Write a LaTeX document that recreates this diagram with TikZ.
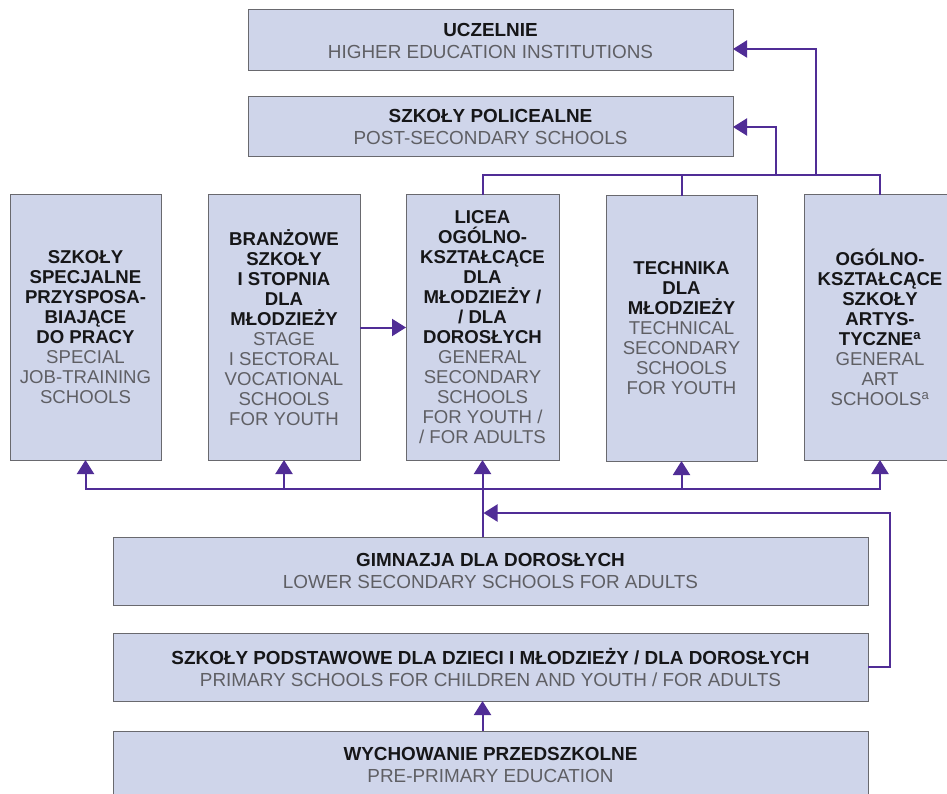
\documentclass[tikz,border=0pt]{standalone}
\usepackage{fontspec}
\setmainfont{Liberation Sans}
\usetikzlibrary{arrows.meta}
\definecolor{boxfill}{RGB}{207,213,234}
\definecolor{boxline}{RGB}{105,105,110}
\definecolor{pltext}{RGB}{22,22,24}
\definecolor{entext}{RGB}{95,95,100}
\definecolor{flow}{RGB}{80,45,150}
% one Polish (bold) line and one English (grey) line of a box label
\newcommand\plline[1]{\textbf{\color{pltext}#1}}
\newcommand\enline[1]{\textcolor{entext}{#1}}

\begin{document}
\begin{tikzpicture}[x=1pt,y=-1pt,
  box/.style={draw=boxline, line width=1pt, fill=boxfill, inner sep=0pt,
    outer sep=0pt, anchor=north west, align=center},
  tall/.style={box, minimum height=265pt, font=\fontsize{18.6}{20}\selectfont},
  wide/.style={box, font=\fontsize{18.9}{22}\selectfont},
  line/.style={draw=flow, line width=2pt},
  arr/.style={line, -{Triangle[width=17pt,length=14pt]}}
]
\useasboundingbox (0,0) rectangle (947,794);
\fill[white] (0,0) rectangle (947,794);
\clip (0,0) rectangle (947,794);

% upper level
\node[wide, minimum width=485pt, minimum height=61pt] (ucz) at (248,10)
  {\plline{UCZELNIE}\\\enline{HIGHER EDUCATION INSTITUTIONS}};
\node[wide, minimum width=485pt, minimum height=60pt] (pol) at (248,97)
  {\plline{SZKOŁY POLICEALNE}\\\enline{POST-SECONDARY SCHOOLS}};

% secondary level
\node[tall, minimum width=151pt] (b1) at (10,195)
  {\plline{SZKOŁY}\\\plline{SPECJALNE}\\\plline{PRZYSPOSA-}\\\plline{BIAJĄCE}\\\plline{DO PRACY}\\
   \enline{SPECIAL}\\\enline{JOB-TRAINING}\\\enline{SCHOOLS}};
\node[tall, minimum width=152pt] (b2) at (208,195)
  {\plline{BRANŻOWE}\\\plline{SZKOŁY}\\\plline{I STOPNIA}\\\plline{DLA}\\\plline{MŁODZIEŻY}\\
   \enline{STAGE}\\\enline{I SECTORAL}\\\enline{VOCATIONAL}\\\enline{SCHOOLS}\\\enline{FOR YOUTH}};
\node[tall, minimum width=153pt] (b3) at (406,195)
  {\plline{LICEA}\\\plline{OGÓLNO-}\\\plline{KSZTAŁCĄCE}\\\plline{DLA}\\\plline{MŁODZIEŻY /}\\\plline{/ DLA}\\\plline{DOROSŁYCH}\\
   \enline{GENERAL}\\\enline{SECONDARY}\\\enline{SCHOOLS}\\\enline{FOR YOUTH /}\\\enline{/ FOR ADULTS}};
\node[tall, minimum width=151pt] (b4) at (606,196)
  {\plline{TECHNIKA}\\\plline{DLA}\\\plline{MŁODZIEŻY}\\
   \enline{TECHNICAL}\\\enline{SECONDARY}\\\enline{SCHOOLS}\\\enline{FOR YOUTH}};
\node[tall, minimum width=152pt] (b5) at (804,195)
  {\plline{OGÓLNO-}\\\plline{KSZTAŁCĄCE}\\\plline{SZKOŁY}\\\plline{ARTYS-}\\\plline{TYCZNE\textsuperscript{a}}\\
   \enline{GENERAL}\\\enline{ART}\\\enline{SCHOOLS\textsuperscript{a}}};

% lower levels
\node[wide, minimum width=755pt, minimum height=68pt] (gim) at (113,537)
  {\plline{GIMNAZJA DLA DOROSŁYCH}\\\enline{LOWER SECONDARY SCHOOLS FOR ADULTS}};
\node[wide, minimum width=755pt, minimum height=68pt] (pod) at (113,633)
  {\plline{SZKOŁY PODSTAWOWE DLA DZIECI I MŁODZIEŻY / DLA DOROSŁYCH}\\\enline{PRIMARY SCHOOLS FOR CHILDREN AND YOUTH / FOR ADULTS}};
\node[wide, minimum width=755pt, minimum height=68pt] (wyc) at (113,731)
  {\plline{WYCHOWANIE PRZEDSZKOLNE}\\\enline{PRE-PRIMARY EDUCATION}};

% paths from the secondary schools upwards
\coordinate (tl) at (482.5,175);
\coordinate (tr) at (880,175);
\coordinate (up1) at (776,175);
\coordinate (up2) at (816,175);
\draw[line] (b3.north) -- (tl) -- (tr) -- (b5.north);
\draw[line] (b4.north) -- (b4.north |- tl);
\draw[arr] (up1) |- (pol.east);
\draw[arr] (up2) |- ([yshift=-8.5pt]ucz.east);

% paths into the secondary schools
\coordinate (hub) at (482.5,489);
\draw[arr] (gim.north -| b3.south) -- (b3.south);
\draw[arr] (hub) -| (b1.south);
\draw[arr] (hub) -| (b2.south);
\draw[arr] (hub) -| (b4.south);
\draw[arr] (hub) -| (b5.south);
\draw[arr] (b2.east) -- (b3.west);

% primary school leavers and pre-primary
\coordinate (join) at (483.5,513);
\draw[arr] (pod.east) -- ++(22,0) |- (join);
\draw[arr] (wyc.north -| b3.south) -- (pod.south -| b3.south);
\end{tikzpicture}
\end{document}
